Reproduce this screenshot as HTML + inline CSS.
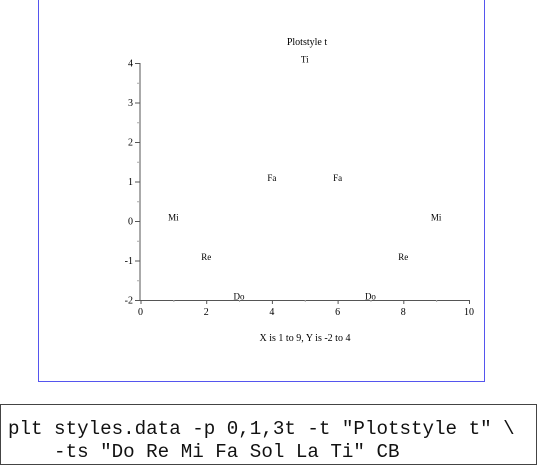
<!DOCTYPE html>
<html><head><meta charset="utf-8"><style>
html,body{margin:0;padding:0;background:#fff;width:540px;height:466px;overflow:hidden}
#frame{position:absolute;left:38px;top:-1px;width:445px;height:381px;border:1px solid #5555ee;border-top-color:#aaaaff}
#cmd{position:absolute;left:0;top:404px;width:537px;height:61px;border:1px solid #444;font-family:"Liberation Mono",monospace;font-size:19.2px;line-height:23px;color:#111;white-space:pre;padding-top:13px;box-sizing:border-box;padding-left:7px;overflow:hidden}
svg{position:absolute;left:0;top:0}
</style></head><body>
<div id="frame"></div>
<svg id="chart" width="540" height="400" font-family="Liberation Serif, serif"></svg>
<div id="cmd">plt styles.data -p 0,1,3t -t "Plotstyle t" \
    -ts "Do Re Mi Fa Sol La Ti" CB</div>
<script>
const xs=[3,2,1,4,5,6,7,8,9];
const ys=[-2,-1,0,1,4,1,-2,-1,0];
const labels=["Do","Re","Mi","Fa","Ti","Fa","Do","Re","Mi"];
const xTicks=[0,2,4,6,8,10];
const yTicks=[-2,-1,0,1,2,3,4];
const NS="http://www.w3.org/2000/svg";
const svg=document.getElementById('chart');
const X=v=>140.5+v*32.85;
const Y=v=>300-(v+2)*39.5;
function mk(t,a){const e=document.createElementNS(NS,t);for(const k in a)e.setAttribute(k,a[k]);svg.appendChild(e);return e;}
let e;
e=mk('line',{x1:140,y1:Y(4),x2:140,y2:301,stroke:'#aaa','stroke-width':2});


e=mk('line',{x1:140,y1:300.5,x2:X(10),y2:300.5,stroke:'#555','stroke-width':1});


for(let v=-2;v<=4;v+=0.5){const full=Number.isInteger(v);e=mk('line',{x1:full?135:137,y1:Y(v)+0.5,x2:140,y2:Y(v)+0.5,stroke:full?'#555':'#aaa'});

}
for(let v=0;v<=10;v++){e=mk('line',{x1:X(v)+0.5,y1:300,x2:X(v)+0.5,y2:v%2?302:304,stroke:v%2?'#aaa':'#555'});

}
yTicks.forEach(v=>{e=mk('text',{x:133,y:Y(v)+3.5,'text-anchor':'end','font-size':10});e.textContent=v;

});
xTicks.forEach(v=>{e=mk('text',{x:X(v),y:315,'text-anchor':'middle','font-size':10});e.textContent=v;

});
xs.forEach((x,i)=>{e=mk('text',{x:X(x),y:Y(ys[i])-0.5,'text-anchor':'middle','font-size':9});e.textContent=labels[i];

});
e=mk('text',{x:307,y:45,'text-anchor':'middle','font-size':10});e.textContent='Plotstyle t';


e=mk('text',{x:305,y:341,'text-anchor':'middle','font-size':10});e.textContent='X is 1 to 9,  Y is -2 to 4';


</script>
</body></html>
